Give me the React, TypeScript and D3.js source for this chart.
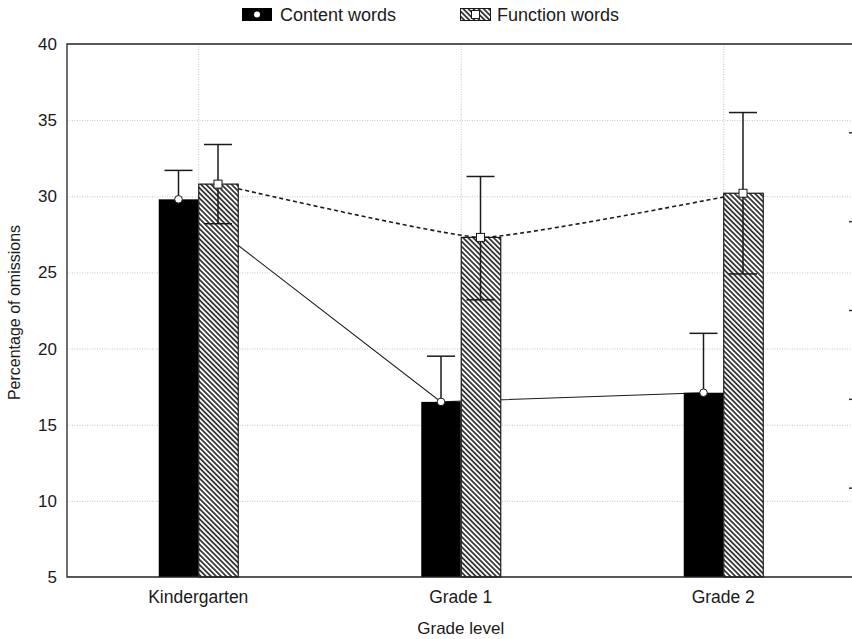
import React, { useEffect, useRef } from 'react';
import * as d3 from 'd3';

// data
const categories = ['Kindergarten', 'Grade 1', 'Grade 2'];
const contentWords = [29.8, 16.5, 17.1];
const contentUpper = [31.7, 19.5, 21.0];
const functionWords = [30.8, 27.3, 30.2];
const functionUpper = [33.4, 31.3, 35.5];
const functionLower = [28.2, 23.2, 24.9];
const yTicks = [5, 10, 15, 20, 25, 30, 35, 40];
const rightTicks = [1, 2, 3, 4, 5];

export default function App() {
  const ref = useRef<SVGSVGElement>(null);

  useEffect(() => {
    const width = 852;
    const height = 639;
    const svg = d3.select(ref.current);
    svg.selectAll('*').remove();

    const marge = { top: 44, bottom: 62, left: 67, right: -2.5 };
    const font = '"Liberation Sans", Arial, sans-serif';
    const ink = '#1a1a1a';

    const x = d3.scaleBand().domain(categories).range([marge.left, width - marge.right]);
    const y = d3.scaleLinear().domain([5, 40]).range([height - marge.bottom, marge.top]);
    const y2 = d3.scaleLinear().domain([0, 6]).range([height - marge.bottom, marge.top]);
    const barW = 39.5;
    const cx = (c: string) => (x(c) as number) + x.bandwidth() / 2;

    // hatch pattern
    const defs = svg.append('defs');
    const pat = defs.append('pattern')
      .attr('id', 'hatch')
      .attr('patternUnits', 'userSpaceOnUse')
      .attr('width', 3.6).attr('height', 3.6)
      .attr('patternTransform', 'rotate(-45)');
    pat.append('rect').attr('width', 3.6).attr('height', 3.6).attr('fill', '#fff');
    pat.append('line').attr('x1', 0.9).attr('x2', 0.9).attr('y1', 0).attr('y2', 3.6)
      .attr('stroke', '#111').attr('stroke-width', 1.5);

    // grid
    const grid = svg.append('g').attr('stroke', '#c4c4c4').attr('stroke-dasharray', '1,1.5');
    grid.selectAll('.hg').data(yTicks.filter(d => d > 5 && d < 40)).enter().append('line')
      .attr('x1', marge.left).attr('x2', width)
      .attr('y1', d => y(d) + 0.5).attr('y2', d => y(d) + 0.5);
    grid.selectAll('.vg').data(categories).enter().append('line')
      .attr('x1', d => cx(d) + 0.5).attr('x2', d => cx(d) + 0.5)
      .attr('y1', marge.top).attr('y2', height - marge.bottom);

    // lines between means (behind bars)
    const contentPts: [number, number][] = categories.map((c, i) => [cx(c) - barW / 2, y(contentWords[i])]);
    const functionPts: [number, number][] = categories.map((c, i) => [cx(c) + barW / 2, y(functionWords[i])]);
    svg.append('path').attr('d', d3.line()(contentPts) as string)
      .attr('fill', 'none').attr('stroke', ink).attr('stroke-width', 1.1);
    svg.append('path').attr('d', d3.line().curve(d3.curveCardinal.tension(0.6))(functionPts) as string)
      .attr('fill', 'none').attr('stroke', ink).attr('stroke-width', 1.6).attr('stroke-dasharray', '4,3');

    // bars
    svg.selectAll('.cb').data(contentWords).enter().append('rect')
      .attr('x', (d, i) => cx(categories[i]) - barW)
      .attr('y', d => y(d))
      .attr('width', barW)
      .attr('height', d => y(5) - y(d))
      .attr('fill', '#000');
    svg.selectAll('.fb').data(functionWords).enter().append('rect')
      .attr('x', (d, i) => cx(categories[i]) + 0.5)
      .attr('y', d => y(d))
      .attr('width', barW)
      .attr('height', d => y(5) - y(d))
      .attr('fill', 'url(#hatch)')
      .attr('stroke', ink).attr('stroke-width', 1.2);

    // error bars (content lower whiskers vanish inside the black bars)
    const cap = 14;
    const errs = svg.append('g').attr('stroke', ink).attr('stroke-width', 1.5);
    categories.forEach((c, i) => {
      const xc = cx(c) - barW / 2;
      const xf = cx(c) + barW / 2;
      errs.append('line').attr('x1', xc).attr('x2', xc).attr('y1', y(contentWords[i])).attr('y2', y(contentUpper[i]));
      errs.append('line').attr('x1', xc - cap).attr('x2', xc + cap).attr('y1', y(contentUpper[i])).attr('y2', y(contentUpper[i]));
      errs.append('line').attr('x1', xf).attr('x2', xf).attr('y1', y(functionLower[i])).attr('y2', y(functionUpper[i]));
      errs.append('line').attr('x1', xf - cap).attr('x2', xf + cap).attr('y1', y(functionUpper[i])).attr('y2', y(functionUpper[i]));
      errs.append('line').attr('x1', xf - cap).attr('x2', xf + cap).attr('y1', y(functionLower[i])).attr('y2', y(functionLower[i]));
    });

    // markers
    svg.selectAll('.cm').data(contentPts).enter().append('circle')
      .attr('cx', d => d[0]).attr('cy', d => d[1]).attr('r', 3.8)
      .attr('fill', '#fff').attr('stroke', ink).attr('stroke-width', 1);
    svg.selectAll('.fm').data(functionPts).enter().append('rect')
      .attr('x', d => d[0] - 4).attr('y', d => d[1] - 4).attr('width', 8).attr('height', 8)
      .attr('fill', '#fff').attr('stroke', ink).attr('stroke-width', 1);

    // frame
    const frame = svg.append('g').attr('stroke', '#222').attr('stroke-width', 1.3).attr('fill', 'none');
    frame.append('path').attr('d', `M${width},${marge.top}H${marge.left}V${y(5)}H${width}`);

    // right side ticks of a second axis
    svg.selectAll('.rt').data(rightTicks).enter().append('line')
      .attr('x1', width - marge.right - 5.5).attr('x2', width)
      .attr('y1', d => y2(d)).attr('y2', d => y2(d))
      .attr('stroke', '#333').attr('stroke-width', 1.5);

    // tick labels
    svg.selectAll('.yl').data(yTicks).enter().append('text')
      .attr('x', marge.left - 10).attr('y', d => y(d) + 6)
      .attr('text-anchor', 'end')
      .attr('font-family', font).attr('font-size', 17).attr('fill', ink)
      .text(d => d);
    svg.selectAll('.xl').data(categories).enter().append('text')
      .attr('x', d => cx(d)).attr('y', y(5) + 26)
      .attr('text-anchor', 'middle')
      .attr('font-family', font).attr('font-size', 17.5).attr('fill', ink)
      .text(d => d);

    // axis titles
    svg.append('text')
      .attr('transform', `translate(20,${(marge.top + y(5)) / 2 + 2}) rotate(-90)`)
      .attr('text-anchor', 'middle')
      .attr('font-family', font).attr('font-size', 16).attr('fill', ink)
      .text('Percentage of omissions');
    svg.append('text')
      .attr('x', cx(categories[1])).attr('y', 634)
      .attr('text-anchor', 'middle')
      .attr('font-family', font).attr('font-size', 17).attr('fill', ink)
      .text('Grade level');

    // legend
    const leg = svg.append('g').attr('font-family', font).attr('font-size', 18).attr('fill', ink);
    leg.append('rect').attr('x', 242).attr('y', 8).attr('width', 30).attr('height', 13).attr('fill', '#000');
    leg.append('circle').attr('cx', 257).attr('cy', 14.5).attr('r', 3).attr('fill', '#fff');
    leg.append('text').attr('x', 280).attr('y', 21).text('Content words');
    leg.append('rect').attr('x', 460.5).attr('y', 8.5).attr('width', 30).attr('height', 12)
      .attr('fill', 'url(#hatch)').attr('stroke', ink).attr('stroke-width', 1);
    leg.append('rect').attr('x', 471.5).attr('y', 10.5).attr('width', 8).attr('height', 8)
      .attr('fill', '#fff').attr('stroke', ink).attr('stroke-width', 1);
    leg.append('text').attr('x', 497).attr('y', 21).text('Function words');
  }, []);

  return (
    <svg ref={ref} width={852} height={639}
      style={{ position: 'absolute', left: 0, top: 0, background: '#fff' }} />
  );
}
